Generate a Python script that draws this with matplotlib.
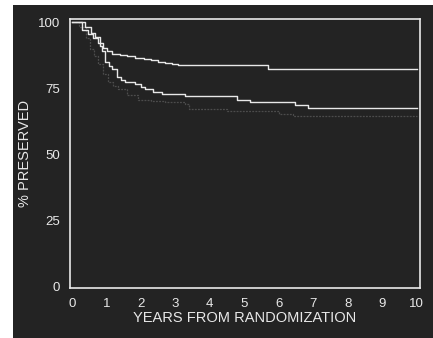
import matplotlib.pyplot as plt
from matplotlib.patches import Rectangle

plt.rcParams['font.family'] = ['Liberation Sans', 'DejaVu Sans']

# curve (years, % preserved)
upper_x = [0, 0.15, 0.3, 0.45, 0.6, 0.75, 0.9, 1.0, 1.16, 1.4, 1.6, 1.83, 2.1, 2.3, 2.5, 2.7, 2.9, 3.07, 5.68, 10]
upper_y = [100, 100, 97, 95.5, 94, 92, 90.4, 89.2, 88.1, 87.5, 87.1, 86.6, 86.0, 85.5, 85.1, 84.7, 84.2, 83.6, 82.1, 82.1]

middle_x = [0, 0.15, 0.38, 0.55, 0.67, 0.8, 0.87, 0.96, 1.06, 1.16, 1.3, 1.42, 1.54, 1.83, 2.0, 2.12, 2.35, 2.6, 3.27, 4.78, 5.16, 6.46, 6.84, 10]
middle_y = [100, 100, 98, 96, 94.2, 91, 88.9, 85.1, 83.5, 82.1, 79.4, 78.2, 77.5, 76.4, 75.4, 74.5, 73.5, 72.6, 71.9, 70.7, 69.7, 68.6, 67.3, 67.3]

lower_x = [0, 0.2, 0.4, 0.52, 0.65, 0.75, 0.9, 1.04, 1.2, 1.33, 1.6, 1.9, 2.3, 2.7, 3.27, 3.4, 4.5, 6.0, 6.4, 10]
lower_y = [100, 98, 94, 90, 87, 84, 80.5, 77.5, 75.8, 74.5, 72.5, 70.7, 70.1, 69.6, 68.9, 67.0, 66.3, 65.4, 64.4, 64.4]

x_ticks = [0, 1, 2, 3, 4, 5, 6, 7, 8, 9, 10]
y_ticks = [0, 25, 50, 75, 100]

bg = '#232323'
fg = '#e8e8e8'

fig = plt.figure(figsize=(4.33, 3.38), dpi=100, facecolor='white')
fig.patches.append(Rectangle((13 / 433, 0), 1, (338 - 5) / 338, transform=fig.transFigure,
                             facecolor=bg, edgecolor='none', zorder=-10))

ax = fig.add_axes([70 / 433, 1 - 288 / 338, 350 / 433, 269 / 338])
ax.set_facecolor(bg)

ax.step(lower_x, lower_y, where='post', color='#4c4c4c', lw=0.9, ls=(0, (1.5, 1)))
ax.step(middle_x, middle_y, where='post', color=fg, lw=1.0)
ax.step(upper_x, upper_y, where='post', color=fg, lw=1.0)

ax.set_xlim(-0.06, 10.1)
ax.set_ylim(-0.7, 101.2)
ax.set_xticks(x_ticks)
ax.set_yticks(y_ticks)
ax.tick_params(length=0, colors=fg, labelsize=9.5, pad=7)
for s in ax.spines.values():
    s.set_color(fg)
    s.set_linewidth(1.2)

ax.set_xlabel('YEARS FROM RANDOMIZATION', color=fg, fontsize=10.5, labelpad=1)
ax.set_ylabel('% PRESERVED', color=fg, fontsize=10.5)
ax.yaxis.set_label_coords(-38 / 350, 0.5)

fig.savefig('out.png', dpi=100, facecolor=fig.get_facecolor())
